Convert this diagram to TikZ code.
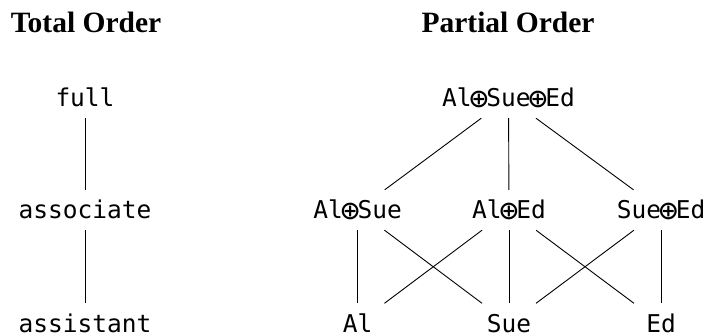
\documentclass[tikz,border=0pt]{standalone}
\usepackage{graphicx}
\usepackage{fontspec}
\setmainfont{Liberation Serif}
\setmonofont{DejaVu Sans Mono}
\newcommand\opl{\makebox[0.602em]{\raisebox{-2.6pt}{\scalebox{1.3}{⊕}}}}
\begin{document}
\begin{tikzpicture}[x=1pt,y=-1pt,
  elem/.style={font=\fontsize{24.5}{28}\selectfont\ttfamily, text height=18.7pt, text depth=1.3pt, inner ysep=10pt, inner xsep=14pt},
  heading/.style={font=\fontsize{29.5}{34}\selectfont\bfseries, anchor=base, inner sep=0pt},
  edge/.style={line width=0.9pt}]
\useasboundingbox (0,0) rectangle (707,335);
% headings
\node[heading] (ht) at (86,32.3) {Total Order};
\node[heading] (hp) at (508,32.3) {Partial Order};
% total order
\node[elem] (full) at (85,98) {full};
\node[elem] (assoc) at (85,210) {associate};
\node[elem] (assist) at (85,323.5) {assistant};
\draw[edge] (full) -- (assoc);
\draw[edge] (assoc) -- (assist);
% partial order
\node[elem] (ase) at (508.5,98) {Al\opl Sue\opl Ed};
\node[elem] (as) at (357.5,210) {Al\opl Sue};
\node[elem] (ae) at (509,210) {Al\opl Ed};
\node[elem] (se) at (661,210) {Sue\opl Ed};
\node[elem] (al) at (357.5,323.5) {Al};
\node[elem] (sue) at (509,323.5) {Sue};
\node[elem] (ed) at (661,323.5) {Ed};
\draw[edge] (ase) -- (as);
\draw[edge] (ase) -- (ae);
\draw[edge] (ase) -- (se);
\draw[edge] (as) -- (al);
\draw[edge] (as) -- (sue);
\draw[edge] (ae) -- (al);
\draw[edge] (ae) -- (ed);
\draw[edge] (ae) -- (sue);
\draw[edge] (se) -- (sue);
\draw[edge] (se) -- (ed);
\end{tikzpicture}
\end{document}
